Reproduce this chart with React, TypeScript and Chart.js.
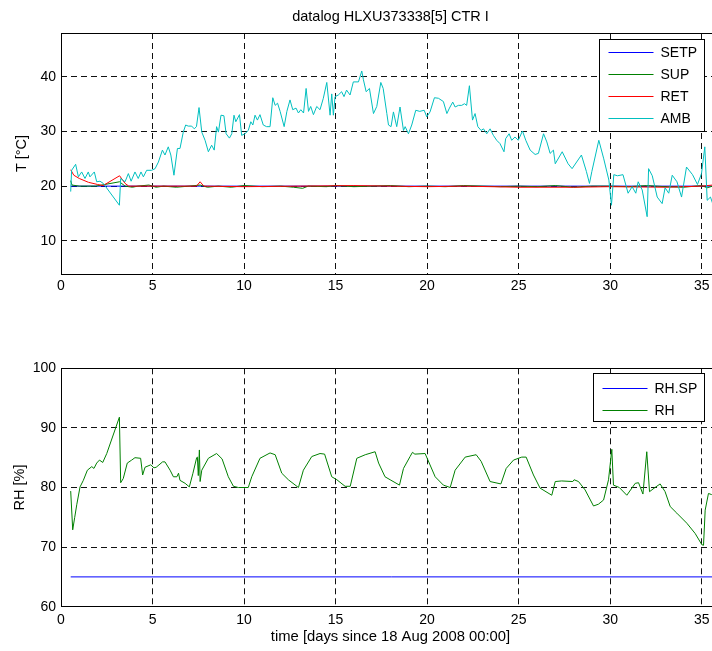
import React, { useEffect, useRef } from "react";
import { Chart, registerables } from "chart.js";

Chart.register(...registerables);

// ---------------- data ----------------
const chartTitle = "datalog HLXU373338[5] CTR I";
const tempAxisTitle = "T [°C]";
const rhAxisTitle = "RH [%]";
const timeAxisTitle = "time [days since 18 Aug 2008 00:00]";

const xTicks = [0, 5, 10, 15, 20, 25, 30, 35];
const tempTicks = [10, 20, 30, 40];
const rhTicks = [60, 70, 80, 90, 100];

const setpDays = [0.53, 35.6];
const setpTemp = [20, 20];

const supDays = [0.53, 0.6, 1.0, 1.9, 3.2, 3.5, 3.9, 4.2, 4.8, 5.2, 5.6, 6.3, 7.0, 7.6, 8.0, 8.6, 9.3, 10.0, 11.0, 12.0, 12.7, 13.2, 13.5, 14.5, 15.0, 16.0, 17.0, 18.0, 19.0, 20.0, 21.0, 22.0, 23.0, 24.0, 25.0, 26.0, 27.0, 28.0, 29.0, 30.0, 31.0, 32.0, 33.0, 34.0, 35.0, 35.3, 35.6];
const supTemp = [21.0, 20.2, 20.0, 20.0, 20.8, 20.0, 19.8, 20.0, 20.2, 19.8, 20.0, 19.8, 20.0, 20.2, 19.8, 20.0, 19.8, 20.1, 19.9, 20.0, 19.8, 19.6, 20.0, 19.9, 20.1, 19.9, 20.0, 20.1, 19.9, 20.0, 19.9, 20.1, 20.0, 19.9, 20.0, 19.9, 20.1, 19.8, 20.0, 20.0, 19.9, 20.1, 19.9, 19.8, 20.1, 19.7, 20.0];

const retDays = [0.53, 0.7, 1.0, 1.5, 2.0, 2.3, 3.2, 3.5, 3.7, 5.0, 7.4, 7.6, 7.8, 10.0, 13.0, 16.0, 20.0, 22.0, 25.0, 28.0, 30.0, 33.0, 35.0, 35.6];
const retTemp = [23.0, 22.0, 21.4, 20.7, 20.3, 20.1, 21.9, 20.5, 20.0, 20.0, 20.0, 20.8, 20.0, 19.9, 20.0, 20.1, 19.9, 20.0, 19.8, 19.8, 19.9, 19.8, 20.0, 20.2];

const ambDays = [0.53, 0.58, 0.8, 0.95, 1.13, 1.31, 1.49, 1.58, 1.82, 1.95, 2.13, 2.31, 3.19, 3.26, 3.5, 3.68, 3.83, 4.04, 4.22, 4.37, 4.5, 4.68, 4.95, 5.14, 5.32, 5.54, 5.68, 5.86, 6.0, 6.17, 6.36, 6.5, 6.68, 6.81, 6.95, 7.14, 7.28, 7.4, 7.54, 7.69, 7.87, 8.05, 8.23, 8.37, 8.5, 8.6, 8.74, 8.9, 9.02, 9.2, 9.33, 9.45, 9.55, 9.75, 9.87, 10.05, 10.23, 10.37, 10.48, 10.6, 10.73, 10.87, 11.05, 11.23, 11.42, 11.57, 11.7, 11.83, 11.97, 12.19, 12.34, 12.51, 12.66, 12.84, 12.97, 13.1, 13.25, 13.39, 13.52, 13.64, 13.79, 13.97, 14.15, 14.33, 14.52, 14.7, 14.79, 14.88, 14.97, 15.15, 15.33, 15.46, 15.6, 15.79, 15.97, 16.25, 16.43, 16.52, 16.67, 16.85, 17.07, 17.25, 17.47, 17.6, 17.8, 17.89, 18.03, 18.16, 18.34, 18.52, 18.71, 18.8, 18.98, 19.16, 19.38, 19.6, 19.84, 19.98, 20.16, 20.4, 20.62, 20.89, 21.08, 21.22, 21.4, 21.53, 21.71, 21.89, 22.04, 22.16, 22.31, 22.48, 22.62, 22.77, 22.95, 23.08, 23.26, 23.44, 23.62, 23.8, 23.98, 24.2, 24.29, 24.48, 24.62, 24.8, 24.98, 25.21, 25.39, 25.63, 25.9, 26.08, 26.36, 26.54, 26.72, 26.9, 27.0, 27.38, 27.7, 27.92, 28.43, 28.7, 28.87, 29.0, 29.38, 29.65, 29.93, 30.07, 30.2, 30.4, 30.7, 30.98, 31.2, 31.4, 31.53, 31.75, 32.02, 32.1, 32.3, 32.57, 32.84, 33.0, 33.2, 33.39, 33.65, 33.9, 34.17, 34.5, 34.77, 34.99, 35.17, 35.3, 35.48, 35.6];
const ambTemp = [19.0, 22.9, 24.0, 21.7, 22.6, 21.4, 22.6, 21.7, 22.6, 20.8, 20.9, 20.5, 16.5, 21.4, 20.8, 22.3, 20.9, 22.6, 21.4, 22.6, 21.7, 22.9, 22.9, 23.2, 24.4, 26.6, 25.7, 27.2, 25.7, 22.0, 26.9, 26.9, 29.9, 31.2, 31.0, 31.0, 30.5, 30.9, 34.4, 29.9, 28.4, 26.3, 27.5, 26.6, 30.9, 29.9, 33.0, 32.9, 29.6, 28.8, 29.6, 33.0, 31.8, 33.1, 29.3, 29.6, 30.2, 31.8, 31.2, 33.0, 32.1, 33.1, 31.2, 30.9, 30.9, 36.2, 34.8, 35.2, 33.7, 30.9, 33.7, 35.8, 34.0, 34.3, 33.4, 34.0, 33.4, 37.9, 33.7, 34.6, 33.1, 34.6, 34.0, 36.1, 39.0, 33.0, 36.9, 33.0, 36.4, 36.7, 37.3, 36.4, 37.6, 36.7, 39.1, 39.1, 41.1, 39.5, 37.3, 37.9, 33.3, 34.6, 39.0, 37.9, 33.3, 31.2, 30.9, 33.6, 30.9, 34.5, 30.2, 30.9, 29.6, 31.2, 33.9, 33.7, 33.9, 32.7, 33.6, 36.2, 36.1, 35.5, 33.3, 34.3, 35.4, 34.5, 34.8, 34.8, 35.1, 34.8, 38.4, 32.1, 33.3, 30.9, 30.2, 30.5, 29.6, 30.5, 29.3, 28.4, 27.8, 26.3, 28.7, 29.6, 28.4, 29.0, 28.4, 30.1, 28.4, 26.6, 25.8, 26.0, 29.6, 28.1, 26.0, 26.6, 24.1, 26.3, 24.1, 23.2, 25.7, 22.7, 20.5, 22.7, 28.4, 25.0, 21.1, 16.5, 22.1, 21.9, 22.1, 18.7, 19.9, 18.7, 20.8, 19.3, 14.4, 23.2, 21.9, 18.0, 16.8, 19.7, 18.7, 22.0, 20.8, 18.0, 23.5, 22.1, 20.3, 22.3, 27.2, 17.4, 18.0, 16.8];

const rhSpDays = [0.53, 35.6, 36];
const rhSpValues = [65, 65, 65];

const rhDays = [0.53, 0.64, 0.75, 0.86, 1.04, 1.22, 1.44, 1.68, 1.8, 1.95, 2.1, 2.28, 2.5, 3.19, 3.26, 3.4, 3.62, 3.86, 4.04, 4.35, 4.46, 4.59, 4.9, 5.08, 5.2, 5.55, 5.68, 5.96, 6.14, 6.33, 6.42, 6.5, 6.78, 7.01, 7.2, 7.41, 7.45, 7.5, 7.56, 7.6, 7.69, 8.05, 8.5, 8.8, 9.14, 9.42, 9.69, 10.05, 10.23, 10.42, 10.87, 11.42, 11.7, 12.06, 12.42, 12.97, 13.24, 13.7, 14.15, 14.4, 14.79, 15.07, 15.52, 15.8, 16.16, 16.62, 17.16, 17.35, 17.7, 17.98, 18.49, 18.71, 19.07, 19.2, 19.33, 19.89, 20.44, 20.89, 21.26, 21.53, 22.08, 22.68, 22.95, 23.44, 24.03, 24.32, 24.72, 25.17, 25.41, 25.81, 26.17, 26.81, 27.0, 27.35, 27.96, 28.03, 28.27, 28.63, 29.09, 29.36, 29.64, 29.91, 30.09, 30.18, 30.5, 30.91, 31.37, 31.55, 31.79, 32.0, 32.15, 32.45, 32.73, 33.0, 33.28, 33.64, 34.19, 34.64, 35.01, 35.1, 35.19, 35.37, 35.55];
const rhValues = [79.4, 72.9, 75.0, 77.1, 80.1, 81.2, 82.9, 83.5, 83.2, 84.1, 84.6, 84.2, 85.7, 91.8, 80.8, 81.5, 84.1, 84.6, 85.0, 84.9, 82.1, 83.4, 83.8, 83.3, 83.4, 84.3, 84.3, 82.9, 81.8, 81.8, 82.4, 81.2, 80.7, 80.1, 82.3, 85.0, 85.1, 82.0, 86.3, 81.0, 82.9, 84.9, 85.7, 84.8, 81.8, 80.2, 80.0, 80.0, 80.0, 81.8, 84.9, 85.8, 85.5, 82.4, 81.3, 80.0, 82.9, 85.2, 85.7, 85.6, 81.8, 81.3, 80.2, 80.2, 84.9, 85.5, 86.0, 84.1, 81.8, 81.3, 80.4, 83.2, 85.2, 85.9, 85.6, 85.7, 81.8, 80.4, 80.0, 82.9, 85.1, 85.5, 84.4, 81.0, 80.6, 83.2, 84.6, 85.1, 85.1, 82.1, 79.9, 78.7, 81.0, 81.1, 81.0, 81.3, 81.0, 79.6, 76.9, 77.2, 77.9, 81.3, 86.4, 80.4, 80.0, 78.7, 80.7, 80.8, 78.9, 86.0, 79.3, 80.0, 80.6, 79.3, 76.8, 75.7, 74.0, 72.3, 70.4, 70.3, 76.2, 79.0, 78.8];

// ---------------- helpers ----------------
const FONT = "'Liberation Sans', Arial, Helvetica, sans-serif";
const BLUE = "#0000ff";
const GREEN = "#008000";
const RED = "#ff0000";
const CYAN = "#00bfbf";

const pts = (xs: number[], ys: number[]) => xs.map((x, i) => ({ x, y: ys[i] }));

const ds = (label: string, xs: number[], ys: number[], color: string, order: number) => ({
  label,
  data: pts(xs, ys),
  borderColor: color,
  backgroundColor: color,
  borderWidth: 1,
  pointRadius: 0,
  tension: 0,
  fill: false,
  order,
});

type LegendSpec = {
  items: { label: string; color: string }[];
  width: number;
  height: number;
  right: number;
  top: number;
  firstRow: number;
};

const framePlugin = (spec: LegendSpec) => ({
  id: "frameLegend",
  afterDraw(chart: any) {
    const { ctx, chartArea } = chart;
    const { left, top, right, bottom } = chartArea;
    ctx.save();
    ctx.strokeStyle = "#000";
    ctx.lineWidth = 1;
    ctx.setLineDash([]);
    ctx.strokeRect(Math.round(left) + 0.5, Math.round(top) + 0.5, Math.round(right - left), Math.round(bottom - top));
    // legend box
    const bx = Math.round(right - spec.right - spec.width) + 0.5;
    const by = Math.round(top + spec.top) + 0.5;
    ctx.fillStyle = "#ffffff";
    ctx.fillRect(bx, by, spec.width, spec.height);
    ctx.strokeStyle = "#000000";
    ctx.strokeRect(bx, by, spec.width, spec.height);
    ctx.font = `14px ${FONT}`;
    ctx.textBaseline = "middle";
    ctx.textAlign = "left";
    spec.items.forEach((it, i) => {
      const y = Math.floor(by + spec.firstRow + i * 22) + 0.5;
      ctx.beginPath();
      ctx.strokeStyle = it.color;
      ctx.lineWidth = 1;
      ctx.moveTo(bx + 9, y);
      ctx.lineTo(bx + 54, y);
      ctx.stroke();
      ctx.fillStyle = "#000000";
      ctx.fillText(it.label, bx + 61, y + 0.5);
    });
    ctx.restore();
  },
});

const xScale = (showTitle: boolean, height: number, pad: number) => ({
  type: "linear",
  min: 0,
  max: 36,
  afterBuildTicks: (s: any) => {
    s.ticks = xTicks.map((v) => ({ value: v }));
  },
  afterFit: (s: any) => {
    s.height = height;
  },
  grid: { color: "#111", lineWidth: 1, drawTicks: false },
  border: { display: false, dash: [6, 4] },
  ticks: { color: "#000", font: { family: FONT, size: 14 }, padding: pad, maxRotation: 0, autoSkip: false },
  title: {
    display: showTitle,
    text: timeAxisTitle,
    color: "#000",
    font: { family: FONT, size: 14.8 },
    padding: { top: 0, bottom: 5 },
  },
});

const yScale = (min: number, max: number, ticks: number[], title: string, tpad: number) => ({
  type: "linear",
  min,
  max,
  afterBuildTicks: (s: any) => {
    s.ticks = ticks.map((v) => ({ value: v }));
  },
  afterFit: (s: any) => {
    s.width = 61;
  },
  grid: { color: "#111", lineWidth: 1, drawTicks: false },
  border: { display: false, dash: [6, 4] },
  ticks: { color: "#000", font: { family: FONT, size: 14 }, padding: 5 },
  title: {
    display: true,
    text: title,
    color: "#000",
    font: { family: FONT, size: 14.5 },
    padding: { top: tpad, bottom: 0 },
  },
});

export default function App() {
  const topRef = useRef<HTMLCanvasElement>(null);
  const botRef = useRef<HTMLCanvasElement>(null);

  useEffect(() => {
    const c1 = new Chart(topRef.current as HTMLCanvasElement, {
      type: "line",
      data: {
        datasets: [
          ds("SETP", setpDays, setpTemp, BLUE, 3),
          ds("SUP", supDays, supTemp, GREEN, 2),
          ds("RET", retDays, retTemp, RED, 1),
          ds("AMB", ambDays, ambTemp, CYAN, 0),
        ],
      },
      options: {
        responsive: false,
        animation: false,
        maintainAspectRatio: false,
        layout: { padding: { left: 0, right: 10, top: 0, bottom: 0 } },
        plugins: {
          legend: { display: false },
          tooltip: { enabled: false },
          title: {
            display: true,
            text: chartTitle,
            color: "#000",
            font: { family: FONT, size: 14.5, weight: "normal", lineHeight: 1.2 },
            padding: { top: 8, bottom: 7.6 },
            fullSize: false,
          },
        },
        scales: {
          x: xScale(false, 56, 4) as any,
          y: yScale(3.9, 48.06, tempTicks, tempAxisTitle, 13) as any,
        },
      } as any,
      plugins: [
        framePlugin({
          items: [
            { label: "SETP", color: BLUE },
            { label: "SUP", color: GREEN },
            { label: "RET", color: RED },
            { label: "AMB", color: CYAN },
          ],
          width: 105,
          height: 92,
          right: 16,
          top: 6,
          firstRow: 13,
        }),
      ],
    });

    const c2 = new Chart(botRef.current as HTMLCanvasElement, {
      type: "line",
      data: {
        datasets: [ds("RH.SP", rhSpDays, rhSpValues, BLUE, 1), ds("RH", rhDays, rhValues, GREEN, 0)],
      },
      options: {
        responsive: false,
        animation: false,
        maintainAspectRatio: false,
        layout: { padding: { left: 0, right: 10, top: 38.3, bottom: 0 } },
        plugins: {
          legend: { display: false },
          tooltip: { enabled: false },
          title: { display: false },
        },
        scales: {
          x: xScale(true, 44.3, 5) as any,
          y: yScale(60, 100, rhTicks, rhAxisTitle, 11) as any,
        },
      } as any,
      plugins: [
        framePlugin({
          items: [
            { label: "RH.SP", color: BLUE },
            { label: "RH", color: GREEN },
          ],
          width: 111,
          height: 48,
          right: 16,
          top: 5,
          firstRow: 14.5,
        }),
      ],
    });

    return () => {
      c1.destroy();
      c2.destroy();
    };
  }, []);

  return (
    <div
      style={{
        position: "fixed",
        left: 0,
        top: 0,
        width: 712,
        height: 651,
        overflow: "hidden",
        background: "#fff",
      }}
    >
      <canvas ref={topRef} width={730} height={330} style={{ position: "absolute", left: 0, top: 0 }} />
      <canvas ref={botRef} width={730} height={321} style={{ position: "absolute", left: 0, top: 330 }} />
    </div>
  );
}
